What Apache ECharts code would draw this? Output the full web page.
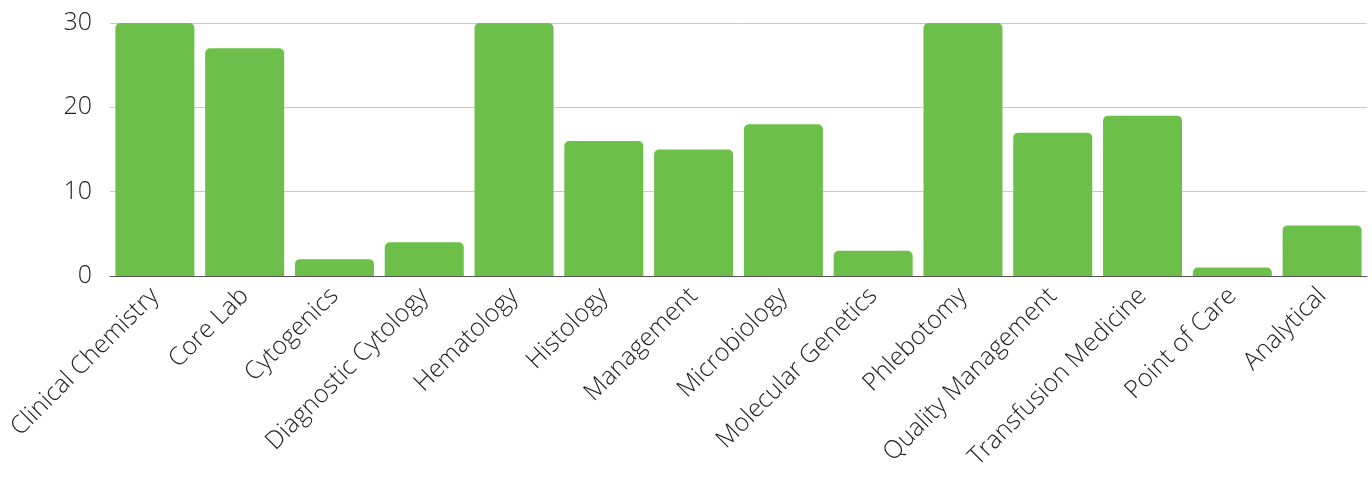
<!DOCTYPE html>
<html>
<head>
<meta charset="utf-8">
<script src="https://cdn.jsdelivr.net/npm/echarts@6/dist/echarts.min.js"></script>
<style>
html,body{margin:0;padding:0;background:#fff;}
#chart{width:1372px;height:483px;}
</style>
</head>
<body>
<div id="chart"></div>
<script>
const categories = ["Clinical Chemistry","Core Lab","Cytogenics","Diagnostic Cytology","Hematology","Histology","Management","Microbiology","Molecular Genetics","Phlebotomy","Quality Management","Transfusion Medicine","Point of Care","Analytical"];
const values = [30,27,2,4,30,16,15,18,3,30,17,19,1,6];
const yTicks = [0,10,20,30];

const chart = echarts.init(document.getElementById('chart'));
chart.setOption({
  animation:false,
  grid:{left:110,right:5,top:23,bottom:207,containLabel:false},
  xAxis:{
    type:'category',
    data:categories,
    axisTick:{show:false},
    axisLine:{lineStyle:{color:'#555',width:1}},
    axisLabel:{rotate:45,interval:0,fontFamily:'Open Sans',fontSize:25,color:'#222',margin:16,fontWeight:300}
  },
  yAxis:{
    type:'value',min:0,max:30,interval:10,
    axisLine:{show:false},axisTick:{show:false},
    splitLine:{lineStyle:{color:'#c8c8c8'}},
    axisLabel:{fontFamily:'Open Sans',fontSize:25,color:'#222',margin:18,fontWeight:300,
      formatter:v=>yTicks.includes(v)?String(v):''}
  },
  series:[{
    type:'bar',data:values,barWidth:79,
    itemStyle:{color:'#6cc04a',borderRadius:[5,5,0,0]}
  }]
});
</script>
</body>
</html>
